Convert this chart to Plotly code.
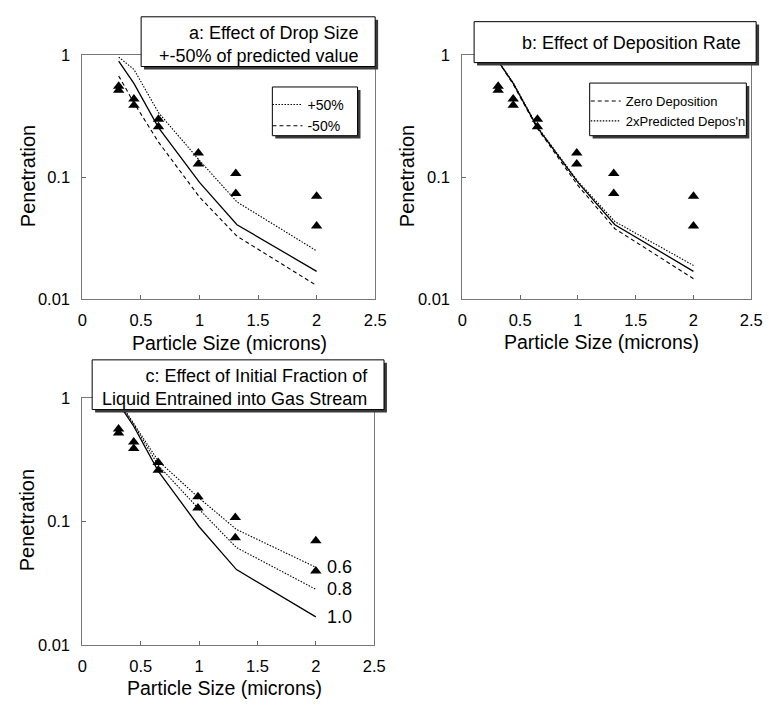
import math
import plotly.graph_objects as go

W, H = 774, 709

# ---------------- data ----------------
obs_x = [0.31, 0.31, 0.44, 0.44, 0.65, 0.65, 0.99, 0.99, 1.31, 1.31, 2.0, 2.0]
obs_y = [0.56, 0.52, 0.44, 0.39, 0.30, 0.26, 0.159, 0.129, 0.108, 0.074, 0.070, 0.040]

model_x = [0.31, 0.44, 0.65, 1.0, 1.32, 2.0]
predicted = [0.90, 0.59, 0.256, 0.091, 0.041, 0.017]

# panel a: drop size +-50%
drop_plus50 = [0.97, 0.77, 0.34, 0.138, 0.063, 0.025]
drop_minus50 = [0.68, 0.41, 0.195, 0.069, 0.033, 0.013]

# panel b: deposition rate
zero_depos = [0.90, 0.58, 0.252, 0.086, 0.038, 0.0148]
twice_depos = [0.90, 0.60, 0.26, 0.093, 0.0435, 0.019]

# panel c: initial entrained fraction
frac_labels = ["0.6", "0.8", "1.0"]
frac_06 = [0.95, 0.62, 0.31, 0.155, 0.0865, 0.0428]
frac_08 = [0.93, 0.61, 0.285, 0.126, 0.0617, 0.0284]
frac_10 = predicted

x_ticks = [0, 0.5, 1, 1.5, 2, 2.5]
x_ticktext = ["0", "0.5", "1", "1.5", "2", "2.5"]
y_ticks = [0.01, 0.1, 1]
y_ticktext = ["0.01", "0.1", "1"]

FONT = "Liberation Sans"


def px(x):
    return x / W


def py(y):
    return 1 - y / H


fig = go.Figure()

LW = 1.3
DOT = "1.5px,1.5px"
DASH = "4px,3px"


def add_obs(xa, ya):
    fig.add_trace(go.Scatter(x=obs_x, y=obs_y, mode="markers", xaxis=xa, yaxis=ya,
                             marker=dict(symbol="triangle-up", size=10, color="black"),
                             showlegend=False, hoverinfo="skip"))


def add_line(xa, ya, y, dash, name=None, legend=None):
    fig.add_trace(go.Scatter(x=model_x, y=y, mode="lines", xaxis=xa, yaxis=ya,
                             line=dict(color="black", width=LW if dash == "solid" else 1.1, dash=dash),
                             name=name, showlegend=name is not None,
                             legend=legend, hoverinfo="skip"))


# panel a
add_line("x", "y", predicted, "solid")
add_line("x", "y", drop_plus50, DOT, "+50%", "legend")
add_line("x", "y", drop_minus50, DASH, "-50%", "legend")
add_obs("x", "y")

# panel b
add_line("x2", "y2", predicted, "solid")
add_line("x2", "y2", zero_depos, DASH, "Zero Deposition", "legend2")
add_line("x2", "y2", twice_depos, DOT, "2xPredicted Depos'n", "legend2")
add_obs("x2", "y2")

# panel c
add_line("x3", "y3", frac_10, "solid")
add_line("x3", "y3", frac_08, DOT)
add_line("x3", "y3", frac_06, DOT)
add_obs("x3", "y3")

# ---------------- axes ----------------
panels = {
    "1": dict(x0=79, x1=378, y0=47.7, y1=298),
    "2": dict(x0=467, x1=762, y0=47.7, y1=298),
    "3": dict(x0=79, x1=377, y0=399, y1=653),
}

axis_common = dict(showline=True, mirror=True, linecolor="#777", linewidth=1,
                   ticks="inside", ticklen=4, tickcolor="#666", showgrid=False,
                   zeroline=False, tickfont=dict(family=FONT, size=16.5, color="black"))

layout = {}
for k, p in panels.items():
    suf = "" if k == "1" else k
    layout["xaxis" + suf] = dict(domain=[px(p["x0"]), px(p["x1"])], anchor="y" + suf,
                                 range=[0, 2.5], tickvals=x_ticks, ticktext=x_ticktext,
                                 ticklabelstandoff=6, **axis_common)
    layout["yaxis" + suf] = dict(domain=[py(p["y1"]), py(p["y0"])], anchor="x" + suf,
                                 type="log", range=[-2, 0], tickvals=y_ticks,
                                 ticktext=y_ticktext, ticklabelstandoff=8, **axis_common)

fig.update_layout(**layout)

# ---------------- boxes (title boxes and legend boxes with shadows) ----------------
shapes = []


def box(x0, y0, x1, y1, sh=3):
    shapes.append(dict(type="rect", xref="paper", yref="paper", layer="above",
                       x0=px(x0 + sh), x1=px(x1 + sh), y0=py(y1 + sh), y1=py(y0 + sh),
                       fillcolor="#3a3a3a", line=dict(width=0)))
    shapes.append(dict(type="rect", xref="paper", yref="paper", layer="above",
                       x0=px(x0), x1=px(x1), y0=py(y1), y1=py(y0),
                       fillcolor="white", line=dict(color="black", width=1)))


box(139, 8, 378, 59)      # title a
box(273, 80, 360, 130)    # legend a
box(479, 13, 767, 55)     # title b
box(597, 76, 757, 130)    # legend b
box(89, 360, 387, 411)    # title c

annotations = []


def text(x, y, s, size, xanchor="center", align="center", angle=0):
    annotations.append(dict(x=px(x), y=py(y), xref="paper", yref="paper", text=s,
                            showarrow=False, xanchor=xanchor, yanchor="middle",
                            align=align, textangle=angle,
                            font=dict(family=FONT, size=size, color="black")))


text(364, 36, "a: Effect of Drop Size<br>+-50% of predicted value", 18, xanchor="right", align="right")
text(754, 35, "b: Effect of Deposition Rate", 18, xanchor="right", align="right")
text(373, 388, "c: Effect of Initial Fraction of<br>Liquid Entrained into Gas Stream", 18,
     xanchor="right", align="right")

# axis titles
text(229, 343, "Particle Size (microns)", 19.5)
text(609, 342, "Particle Size (microns)", 19.5)
text(224, 697, "Particle Size (microns)", 19.5)
text(23, 172, "Penetration", 20, angle=-90)
text(410, 172, "Penetration", 20, angle=-90)
text(22, 525, "Penetration", 20, angle=-90)

# labels for fraction lines in panel c
for lab, series in zip(frac_labels, [frac_06, frac_08, frac_10]):
    annotations.append(dict(x=2.08, y=math.log10(series[-1]),
                            xref="x3", yref="y3", text=lab, showarrow=False,
                            xanchor="left", yanchor="middle",
                            font=dict(family=FONT, size=18, color="black")))

legend_common = dict(bgcolor="rgba(0,0,0,0)", borderwidth=0, itemwidth=30,
                     xanchor="left", yanchor="top", tracegroupgap=0)

fig.update_layout(
    width=W, height=H, margin=dict(l=0, r=0, t=0, b=0),
    paper_bgcolor="white", plot_bgcolor="white",
    shapes=shapes, annotations=annotations,
    legend=dict(x=px(268), y=py(82), font=dict(family=FONT, size=14, color="black"),
                **legend_common),
    legend2=dict(x=px(593), y=py(79), font=dict(family=FONT, size=13, color="black"),
                 **legend_common),
    font=dict(family=FONT),
)

fig.write_html("out.html", config={"displayModeBar": False},
               post_script="document.body.style.margin='0';document.body.style.padding='0';")
